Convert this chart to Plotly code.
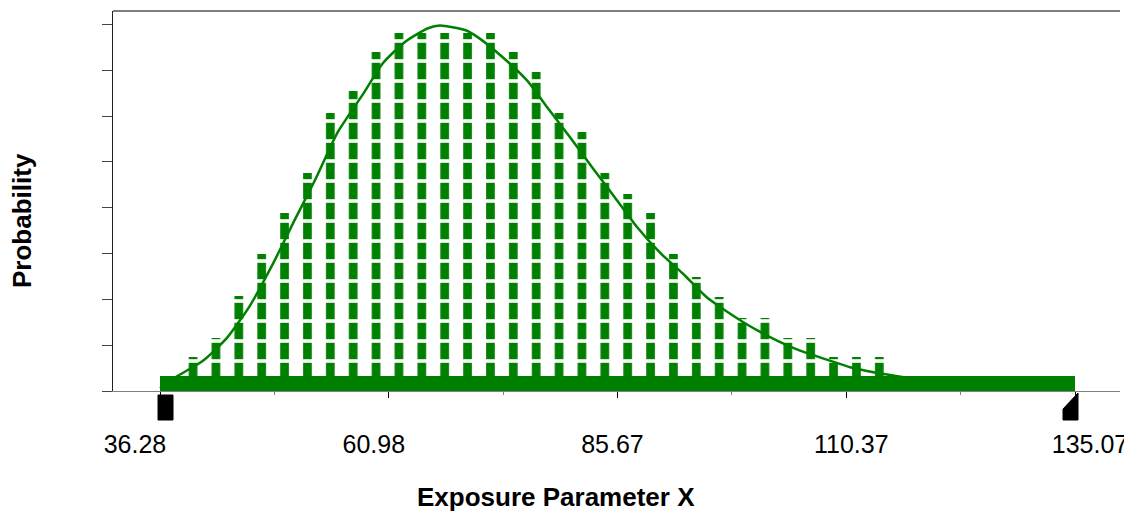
import numpy as np
import plotly.graph_objects as go

# ---------------- data ----------------
x_min, x_max = 36.28, 135.07
tick_values = [36.28, 60.98, 85.67, 110.37, 135.07]
tick_labels = ["36.28", "60.98", "85.67", "110.37", "135.07"]
minor_tick_values = [48.63, 73.33, 98.02, 122.72]
y_tick_values = [0.0, 0.005, 0.010, 0.015, 0.020, 0.025, 0.030, 0.035, 0.040]
n_bins = 40

bin_prob = [0.0005, 0.0037, 0.0058, 0.0104, 0.0150, 0.0194, 0.0238, 0.0304, 0.0328, 0.0370,
            0.0391, 0.0391, 0.0391, 0.0391, 0.0391, 0.0370, 0.0348, 0.0304, 0.0283, 0.0238,
            0.0215, 0.0194, 0.0150, 0.0124, 0.0103, 0.0080, 0.0080, 0.0058, 0.0058, 0.0037,
            0.0037, 0.0037, 0.0, 0.0, 0.0, 0.0, 0.0, 0.0, 0.0, 0.0]

base_prob = [0.0016, 0.0016, 0.0016, 0.0016, 0.0016, 0.0016, 0.0016, 0.0016, 0.0016, 0.0016,
             0.0016, 0.0016, 0.0016, 0.0016, 0.0016, 0.0016, 0.0016, 0.0016, 0.0016, 0.0016,
             0.0016, 0.0016, 0.0016, 0.0016, 0.0016, 0.0016, 0.0016, 0.0016, 0.0016, 0.0016,
             0.0016, 0.0016, 0.0016, 0.0016, 0.0016, 0.0016, 0.0016, 0.0016, 0.0016, 0.0016]

fit_x = [36.28, 38.12, 40.92, 43.51, 45.98, 48.48, 50.64, 53.01, 55.50, 58.20, 60.36, 62.73,
         65.22, 66.51, 69.21, 70.61, 73.31, 75.90, 78.06, 80.55, 83.03, 85.41, 87.78, 90.26,
         92.75, 95.34, 99.44, 102.90, 105.38, 108.94, 110.78, 114.77, 119.41, 126.97, 135.07]
fit_y = [0.0003, 0.0016, 0.0033, 0.0058, 0.0093, 0.0139, 0.0183, 0.0230, 0.0283, 0.0324, 0.0358, 0.0381,
         0.0396, 0.0399, 0.0394, 0.0386, 0.0364, 0.0339, 0.0310, 0.0277, 0.0243, 0.0211, 0.0179, 0.0151,
         0.0128, 0.0102, 0.0074, 0.0055, 0.0044, 0.0032, 0.0026, 0.0018, 0.0011, 0.0006, 0.0003]

certainty_range = [36.28, 135.07]

# ---------------- style ----------------
GREEN = "#008000"
FONT = "Liberation Sans, Arial, sans-serif"
# the page body has an 8px default margin, so the figure is drawn 8px smaller
W, H = 1124, 506
ML, MR, MT, MB = 105, 12, 3, 123
plot_w = W - ML - MR

x_range = [31.206, 139.928]
label_range = [34.007, 138.17]
y_range = [0.0, 0.04148]

edges = np.linspace(x_min, x_max, n_bins + 1)
centers = (edges[:-1] + edges[1:]) / 2
bin_w = edges[1] - edges[0]
bin_px = bin_w / (x_range[1] - x_range[0]) * plot_w

fig = go.Figure()

# histogram bars, textured fill (green columns)
fig.add_trace(go.Bar(
    x=centers, y=bin_prob, width=bin_w,
    marker=dict(color=GREEN, line=dict(width=0),
                pattern=dict(shape="|", size=bin_px, solidity=0.38,
                             fgcolor=GREEN, bgcolor="rgba(0,0,0,0)", fillmode="replace")),
    hoverinfo="skip",
))
# white row breaks in the texture
fig.add_trace(go.Bar(
    x=centers, y=bin_prob, width=bin_w,
    marker=dict(color="white", line=dict(width=0),
                pattern=dict(shape="-", size=20, solidity=0.18,
                             fgcolor="white", bgcolor="rgba(0,0,0,0)", fillmode="replace")),
    hoverinfo="skip",
))
# solid base band
fig.add_trace(go.Bar(
    x=centers, y=base_prob, width=bin_w,
    marker=dict(color=GREEN, line=dict(width=0)),
    hoverinfo="skip",
))
# fitted curve
fig.add_trace(go.Scatter(
    x=fit_x, y=fit_y, mode="lines",
    line=dict(color=GREEN, width=2.5, shape="spline", smoothing=0.6),
    hoverinfo="skip",
))
# invisible trace for the label axis
fig.add_trace(go.Scatter(x=tick_values, y=[None] * len(tick_values), xaxis="x2",
                         mode="markers", showlegend=False, hoverinfo="skip"))

# certainty grabbers below the axis
fig.add_shape(type="rect", xref="x", yref="paper", xsizemode="pixel", ysizemode="pixel",
              xanchor=certainty_range[0], yanchor=0, x0=-2, x1=13, y0=-4, y1=-29,
              fillcolor="black", line=dict(color="black", width=1))
fig.add_shape(type="path", xref="x", yref="paper", xsizemode="pixel", ysizemode="pixel",
              xanchor=certainty_range[1], yanchor=0,
              path="M 3,-2 L 3,-29 L -12,-29 L -12,-18 Z",
              fillcolor="black", line=dict(color="black", width=1))
# top frame line
fig.add_shape(type="line", xref="paper", yref="paper", x0=0, x1=1, y0=1, y1=1,
              line=dict(color="black", width=1.2))

fig.update_layout(
    width=W, height=H,
    margin=dict(l=ML, r=MR, t=MT, b=MB, pad=0, autoexpand=False),
    paper_bgcolor="white", plot_bgcolor="white",
    showlegend=False, barmode="overlay", bargap=0,
    font=dict(family=FONT, color="black"),
    xaxis=dict(range=x_range, showgrid=False, zeroline=False, automargin=False,
               showline=True, linecolor="#808080", linewidth=1,
               tickmode="array", tickvals=tick_values, showticklabels=False,
               ticks="outside", ticklen=6, tickcolor="black", tickwidth=1,
               minor=dict(tickmode="array", tickvals=minor_tick_values, ticks="outside",
                          ticklen=3, tickcolor="#808080", tickwidth=1)),
    xaxis2=dict(range=label_range, overlaying="x", side="bottom", anchor="y", automargin=False,
                showgrid=False, zeroline=False, showline=False, ticks="",
                tickmode="array", tickvals=tick_values, ticktext=tick_labels,
                tickfont=dict(size=25, family=FONT, color="black"),
                ticklabelstandoff=36),
    yaxis=dict(range=y_range, showgrid=False, zeroline=False, automargin=False,
               showline=True, linecolor="#222222", linewidth=1,
               tickmode="array", tickvals=y_tick_values, showticklabels=False,
               ticks="outside", ticklen=10, tickcolor="#444444", tickwidth=1),
    yaxis2=dict(range=y_range, overlaying="y", side="right", anchor="x", automargin=False,
                showgrid=False, zeroline=False,
                showline=True, linecolor="#808080", linewidth=1.5,
                tickmode="array", tickvals=y_tick_values, showticklabels=False,
                ticks="outside", ticklen=3, tickcolor="#808080", tickwidth=1),
    annotations=[
        dict(text="<b>Exposure Parameter X</b>", xref="paper", yref="paper",
             x=0.44, y=-0.28, xanchor="center", yanchor="middle", showarrow=False,
             font=dict(size=26, family=FONT, color="black")),
        dict(text="<b>Probability</b>", xref="paper", yref="paper",
             x=-0.0904, y=0.45, xanchor="center", yanchor="middle", showarrow=False,
             textangle=-90, font=dict(size=26, family=FONT, color="black")),
    ],
)

fig.write_html("out.html")
